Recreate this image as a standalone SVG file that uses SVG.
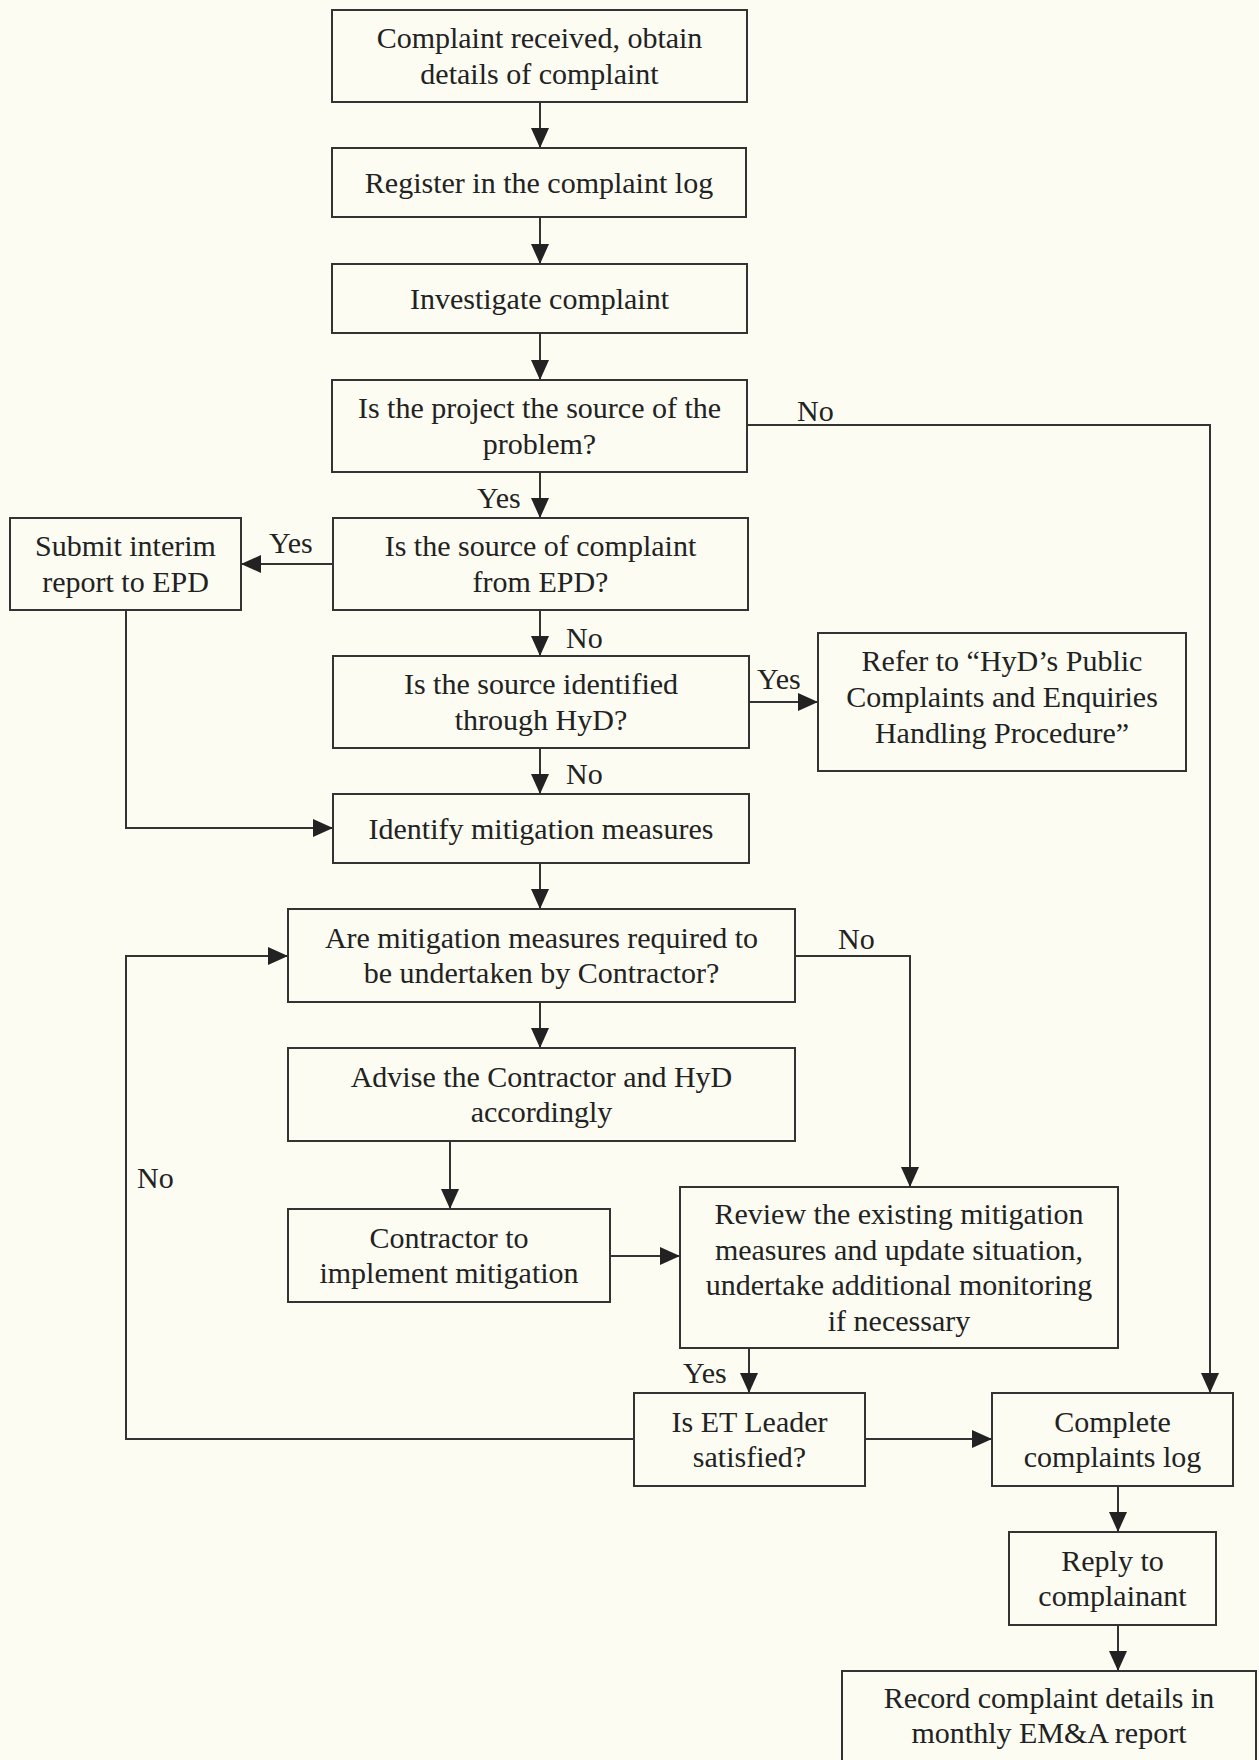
<svg xmlns="http://www.w3.org/2000/svg" width="1259" height="1760" viewBox="0 0 1259 1760">
<style>
.bg{fill:#fcfcf2}
.box{fill:#fcfcf2;stroke:#333;stroke-width:2}
.t{font-family:"Liberation Serif","Times New Roman",serif;font-size:30px;fill:#222;text-anchor:middle}
.lbl{font-family:"Liberation Serif","Times New Roman",serif;font-size:30px;fill:#222}
.c{fill:none;stroke:#333;stroke-width:2}
</style>
<defs>
<marker id="ah" viewBox="0 0 20 18" refX="20" refY="9" markerWidth="20" markerHeight="18" markerUnits="userSpaceOnUse" orient="auto">
<path d="M0,0 L20,9 L0,18 z" fill="#222"/>
</marker>
</defs>
<rect class="bg" x="0" y="0" width="1259" height="1760"/>

<g id="connectors">
<path class="c" d="M540,102 V148" marker-end="url(#ah)"/>
<path class="c" d="M540,217 V264" marker-end="url(#ah)"/>
<path class="c" d="M540,333 V380" marker-end="url(#ah)"/>
<path class="c" d="M747,425 H1210 V1393" marker-end="url(#ah)"/>
<path class="c" d="M540,472 V518" marker-end="url(#ah)"/>
<path class="c" d="M333,564 H241" marker-end="url(#ah)"/>
<path class="c" d="M540,610 V656" marker-end="url(#ah)"/>
<path class="c" d="M749,702 H818" marker-end="url(#ah)"/>
<path class="c" d="M540,748 V794" marker-end="url(#ah)"/>
<path class="c" d="M126,610 V828 H333" marker-end="url(#ah)"/>
<path class="c" d="M540,863 V909" marker-end="url(#ah)"/>
<path class="c" d="M795,956 H910 V1187" marker-end="url(#ah)"/>
<path class="c" d="M540,1002 V1048" marker-end="url(#ah)"/>
<path class="c" d="M450,1141 V1209" marker-end="url(#ah)"/>
<path class="c" d="M610,1256 H680" marker-end="url(#ah)"/>
<path class="c" d="M749,1348 V1393" marker-end="url(#ah)"/>
<path class="c" d="M634,1439 H126 V956 H288" marker-end="url(#ah)"/>
<path class="c" d="M865,1439 H992" marker-end="url(#ah)"/>
<path class="c" d="M1118,1486 V1532" marker-end="url(#ah)"/>
<path class="c" d="M1118,1625 V1671" marker-end="url(#ah)"/>
<text class="lbl" x="797" y="421">No</text>
<text class="lbl" x="477" y="508">Yes</text>
<text class="lbl" x="269" y="553">Yes</text>
<text class="lbl" x="566" y="648">No</text>
<text class="lbl" x="757" y="689">Yes</text>
<text class="lbl" x="566" y="784">No</text>
<text class="lbl" x="838" y="949">No</text>
<text class="lbl" x="137" y="1188">No</text>
<text class="lbl" x="683" y="1383">Yes</text>
</g>

<g id="n1"><rect class="box" x="332" y="10" width="415" height="92"/>
<text class="t" x="539.5" y="48">Complaint received, obtain</text>
<text class="t" x="539.5" y="84">details of complaint</text></g>

<g id="n2"><rect class="box" x="332" y="148" width="414" height="69"/>
<text class="t" x="539" y="193">Register in the complaint log</text></g>

<g id="n3"><rect class="box" x="332" y="264" width="415" height="69"/>
<text class="t" x="539.5" y="309">Investigate complaint</text></g>

<g id="n4"><rect class="box" x="332" y="380" width="415" height="92"/>
<text class="t" x="539.5" y="418">Is the project the source of the</text>
<text class="t" x="539.5" y="454">problem?</text></g>

<g id="n5"><rect class="box" x="333" y="518" width="415" height="92"/>
<text class="t" x="540.5" y="556">Is the source of complaint</text>
<text class="t" x="540.5" y="592">from EPD?</text></g>

<g id="n_submit"><rect class="box" x="10" y="518" width="231" height="92"/>
<text class="t" x="125.5" y="556">Submit interim</text>
<text class="t" x="125.5" y="592">report to EPD</text></g>

<g id="n6"><rect class="box" x="333" y="656" width="416" height="92"/>
<text class="t" x="541" y="694">Is the source identified</text>
<text class="t" x="541" y="730">through HyD?</text></g>

<g id="n_refer"><rect class="box" x="818" y="633" width="368" height="138"/>
<text class="t" x="1002" y="671">Refer to “HyD’s Public</text>
<text class="t" x="1002" y="707">Complaints and Enquiries</text>
<text class="t" x="1002" y="743">Handling Procedure”</text></g>

<g id="n_identify"><rect class="box" x="333" y="794" width="416" height="69"/>
<text class="t" x="541" y="839">Identify mitigation measures</text></g>

<g id="n_are"><rect class="box" x="288" y="909" width="507" height="93"/>
<text class="t" x="541.5" y="948">Are mitigation measures required to</text>
<text class="t" x="541.5" y="983">be undertaken by Contractor?</text></g>

<g id="n_advise"><rect class="box" x="288" y="1048" width="507" height="93"/>
<text class="t" x="541.5" y="1087">Advise the Contractor and HyD</text>
<text class="t" x="541.5" y="1122">accordingly</text></g>

<g id="n_contractor"><rect class="box" x="288" y="1209" width="322" height="93"/>
<text class="t" x="449" y="1248">Contractor to</text>
<text class="t" x="449" y="1283">implement mitigation</text></g>

<g id="n_review"><rect class="box" x="680" y="1187" width="438" height="161"/>
<text class="t" x="899" y="1224">Review the existing mitigation</text>
<text class="t" x="899" y="1260">measures and update situation,</text>
<text class="t" x="899" y="1295">undertake additional monitoring</text>
<text class="t" x="899" y="1331">if necessary</text></g>

<g id="n_et"><rect class="box" x="634" y="1393" width="231" height="93"/>
<text class="t" x="749.5" y="1432">Is ET Leader</text>
<text class="t" x="749.5" y="1467">satisfied?</text></g>

<g id="n_complete"><rect class="box" x="992" y="1393" width="241" height="93"/>
<text class="t" x="1112.5" y="1432">Complete</text>
<text class="t" x="1112.5" y="1467">complaints log</text></g>

<g id="n_reply"><rect class="box" x="1009" y="1532" width="207" height="93"/>
<text class="t" x="1112.5" y="1571">Reply to</text>
<text class="t" x="1112.5" y="1606">complainant</text></g>

<g id="n_record"><rect class="box" x="842" y="1671" width="414" height="95"/>
<text class="t" x="1049" y="1708">Record complaint details in</text>
<text class="t" x="1049" y="1743">monthly EM&amp;A report</text></g>
</svg>
